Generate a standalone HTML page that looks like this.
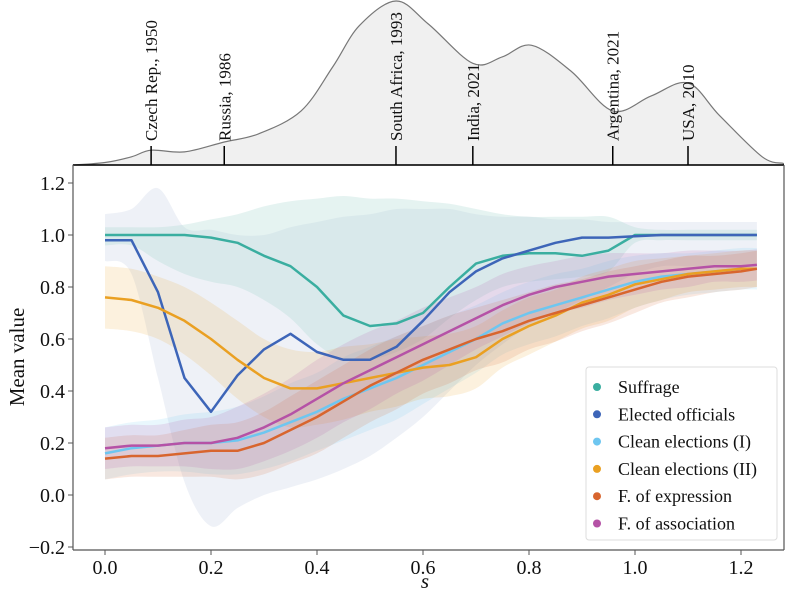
<!DOCTYPE html>
<html><head><meta charset="utf-8"><style>
body{margin:0;background:#fff}
svg text{font-family:"Liberation Serif","DejaVu Serif",serif;fill:#111}
</style></head><body>
<svg id="c" width="788" height="595" xmlns="http://www.w3.org/2000/svg"></svg>
<script>
const grid=[0,0.05,0.1,0.15,0.2,0.25,0.3,0.35,0.4,0.45,0.5,0.55,0.6,0.65,0.7,0.75,0.8,0.85,0.9,0.95,1.0,1.05,1.1,1.15,1.2,1.23];
const suffrage=[1.0,1.0,1.0,1.0,0.99,0.97,0.92,0.88,0.80,0.69,0.65,0.66,0.70,0.80,0.89,0.92,0.93,0.93,0.92,0.94,1.0,1.0,1.0,1.0,1.0,1.0];
const suffrageLo=[0.96,0.96,0.9,0.85,0.82,0.8,0.75,0.68,0.58,0.52,0.52,0.55,0.6,0.68,0.75,0.8,0.82,0.83,0.84,0.86,0.97,0.98,0.98,0.98,0.98,0.98];
const suffrageHi=[1.03,1.03,1.03,1.04,1.06,1.08,1.11,1.13,1.14,1.15,1.14,1.14,1.13,1.12,1.1,1.08,1.07,1.07,1.07,1.07,1.03,1.02,1.02,1.02,1.02,1.02];
const elected=[0.98,0.98,0.78,0.45,0.32,0.46,0.56,0.62,0.55,0.52,0.52,0.57,0.67,0.78,0.86,0.91,0.94,0.97,0.99,0.99,0.995,1.0,1.0,1.0,1.0,1.0];
const electedLo=[0.9,0.85,0.45,0.05,-0.12,-0.05,0.0,0.03,0.06,0.1,0.15,0.22,0.3,0.4,0.5,0.58,0.65,0.7,0.75,0.8,0.85,0.88,0.88,0.88,0.88,0.88];
const electedHi=[1.08,1.1,1.18,1.03,1.02,1.0,1.0,1.03,1.05,1.07,1.08,1.1,1.1,1.1,1.08,1.07,1.07,1.06,1.06,1.05,1.05,1.05,1.05,1.05,1.05,1.05];
const clean1=[0.16,0.18,0.19,0.20,0.20,0.21,0.24,0.28,0.32,0.37,0.41,0.45,0.50,0.55,0.60,0.66,0.70,0.73,0.76,0.79,0.82,0.84,0.85,0.86,0.87,0.87];
const clean2=[0.76,0.75,0.72,0.67,0.60,0.52,0.45,0.41,0.41,0.43,0.45,0.47,0.49,0.50,0.53,0.60,0.65,0.69,0.74,0.77,0.81,0.83,0.85,0.86,0.87,0.87];
const expr=[0.14,0.15,0.15,0.16,0.17,0.17,0.20,0.25,0.30,0.36,0.42,0.47,0.52,0.56,0.60,0.63,0.67,0.70,0.73,0.76,0.79,0.82,0.84,0.85,0.86,0.87];
const assoc=[0.18,0.19,0.19,0.20,0.20,0.22,0.26,0.31,0.37,0.43,0.48,0.53,0.58,0.63,0.68,0.73,0.77,0.80,0.82,0.84,0.85,0.86,0.87,0.88,0.88,0.885];
const clean1Half=[0.1,0.1,0.1,0.11,0.12,0.13,0.14,0.15,0.15,0.16,0.16,0.16,0.15,0.14,0.13,0.12,0.12,0.12,0.11,0.11,0.1,0.09,0.08,0.08,0.08,0.08];
const clean2Half=[0.12,0.12,0.12,0.13,0.14,0.15,0.15,0.15,0.14,0.14,0.13,0.13,0.12,0.12,0.12,0.11,0.11,0.1,0.1,0.1,0.09,0.08,0.07,0.07,0.07,0.07];
const exprHalf=[0.08,0.08,0.08,0.09,0.1,0.11,0.12,0.13,0.14,0.14,0.14,0.14,0.13,0.13,0.12,0.12,0.11,0.11,0.1,0.1,0.09,0.08,0.08,0.07,0.07,0.07];
const assocHalf=[0.08,0.08,0.08,0.09,0.1,0.12,0.13,0.14,0.15,0.15,0.15,0.14,0.14,0.13,0.12,0.12,0.11,0.1,0.1,0.09,0.08,0.07,0.07,0.06,0.06,0.06];
const seriesNames=["Suffrage","Elected officials","Clean elections (I)","Clean elections (II)","F. of expression","F. of association"];
const xTicks=[0,0.2,0.4,0.6,0.8,1.0,1.2];
const xTickLabels=["0.0","0.2","0.4","0.6","0.8","1.0","1.2"];
const yTicks=[-0.2,0,0.2,0.4,0.6,0.8,1.0,1.2];
const yTickLabels=["\u22120.2","0.0","0.2","0.4","0.6","0.8","1.0","1.2"];
const countryPos=[0.087,0.225,0.549,0.694,0.958,1.1];
const countryLabels=["Czech Rep., 1950","Russia, 1986","South Africa, 1993","India, 2021","Argentina, 2021","USA, 2010"];
const densS=[-0.06,0.0,0.05,0.087,0.15,0.225,0.29,0.37,0.43,0.48,0.549,0.61,0.694,0.75,0.805,0.88,0.958,1.03,1.1,1.16,1.24,1.28];
const densV=[0,0.015,0.05,0.09,0.08,0.14,0.19,0.33,0.6,0.85,1.0,0.86,0.62,0.66,0.73,0.57,0.33,0.42,0.5,0.3,0.05,0.01];

const svg=document.getElementById('c');
const NS="http://www.w3.org/2000/svg";
const X=s=>105+s*530, Y=v=>495-v*260, DY=v=>165-v*164;
function mk(t,a,p){const e=document.createElementNS(NS,t);for(const k in a)e.setAttribute(k,a[k]);(p||svg).appendChild(e);return e;}
function smooth(pts){let d=`M${pts[0][0].toFixed(1)},${pts[0][1].toFixed(1)}`;
 for(let i=0;i<pts.length-1;i++){const p0=pts[i-1]||pts[i],p1=pts[i],p2=pts[i+1],p3=pts[i+2]||p2;
  const c1=[p1[0]+(p2[0]-p0[0])/6,p1[1]+(p2[1]-p0[1])/6],c2=[p2[0]-(p3[0]-p1[0])/6,p2[1]-(p3[1]-p1[1])/6];
  d+=` C${c1[0].toFixed(1)},${c1[1].toFixed(1)} ${c2[0].toFixed(1)},${c2[1].toFixed(1)} ${p2[0].toFixed(1)},${p2[1].toFixed(1)}`;}
 return d;}
// density
const dpts=densS.map((s,i)=>[X(s),DY(densV[i])]);
const dens=mk('path',{d:smooth(dpts)+` L${X(densS[densS.length-1])},165 L${X(densS[0])},165 Z`,fill:'#f0f0f0',stroke:'#777','stroke-width':1.2,'stroke-linejoin':'round'});


countryPos.forEach((s,i)=>{
 const g=mk('g',{});
 
 
 mk('line',{x1:X(s),x2:X(s),y1:146,y2:165,stroke:'#000','stroke-width':1.5},g);
 const t=mk('text',{x:0,y:0,transform:`translate(${X(s)+6},141) rotate(-90)`,'font-size':17},g);t.textContent=countryLabels[i];
});
function band(lo,hi,color,op,name){
 const up=grid.map((s,i)=>[X(s),Y(hi[i])]);
 const dn=grid.map((s,i)=>[X(s),Y(lo[i])]).reverse();
 const d=smooth(up)+' L'+smooth(dn).slice(1)+'Z';
 const e=mk('path',{d,fill:color,'fill-opacity':op});
 
 }
const colors=['#3aaea0','#3d65b8','#6ec6f0','#eaa022','#d8652e','#b552a6'];
band(electedLo,electedHi,'#c6d0e6',0.3,'band-elected-officials');
band(suffrageLo,suffrageHi,'#a8d8d2',0.3,'band-suffrage');
const halfs=[[clean1,clean1Half],[clean2,clean2Half],[expr,exprHalf],[assoc,assocHalf]];
halfs.forEach((p,k)=>band(p[0].map((v,i)=>v-p[1][i]),p[0].map((v,i)=>v+p[1][i]),colors[k+2],0.15,'band-'+k));
[suffrage,elected,clean1,clean2,expr,assoc].forEach((arr,k)=>{
 let d='';grid.forEach((s,i)=>d+=(i?' L':'M')+X(s).toFixed(1)+','+Y(arr[i]).toFixed(1));
 const e=mk('path',{d,fill:'none',stroke:colors[k],'stroke-width':2.5,'stroke-linejoin':'round'});
 
 
});
mk('line',{x1:73,x2:784,y1:165,y2:165,stroke:'#000','stroke-width':1.5});
mk('line',{x1:73,x2:73,y1:165,y2:550,stroke:'#555','stroke-width':1.2});
mk('line',{x1:73,x2:784,y1:550,y2:550,stroke:'#555','stroke-width':1.2});
mk('line',{x1:784,x2:784,y1:165,y2:550,stroke:'#555','stroke-width':1.2});
xTicks.forEach((s,i)=>{mk('line',{x1:X(s),x2:X(s),y1:550,y2:555,stroke:'#555'});
 const t=mk('text',{x:X(s),y:574,'text-anchor':'middle','font-size':20});t.textContent=xTickLabels[i];
 });
yTicks.forEach((v,i)=>{mk('line',{x1:68,x2:73,y1:Y(v),y2:Y(v),stroke:'#555'});
 const t=mk('text',{x:65,y:Y(v)+7,'text-anchor':'end','font-size':20});t.textContent=yTickLabels[i];
 });
const yl=mk('text',{transform:'translate(24,357) rotate(-90)','text-anchor':'middle','font-size':21});yl.textContent='Mean value';

const xl=mk('text',{x:425,y:588,'text-anchor':'middle','font-size':21,'font-style':'italic'});xl.textContent='s';

const lg=mk('g',{});


mk('rect',{x:586,y:367,width:191,height:173,rx:3,fill:'#fff','fill-opacity':0.85,stroke:'#ddd'},lg);
seriesNames.forEach((n,i)=>{const y=387+i*27.3;
 const g=mk('g',{},lg);
 
 
 mk('circle',{cx:597,cy:y,r:4,fill:colors[i]},g);
 const t=mk('text',{x:618,y:y+6,'font-size':18},g);t.textContent=n;});
</script>
</body></html>
